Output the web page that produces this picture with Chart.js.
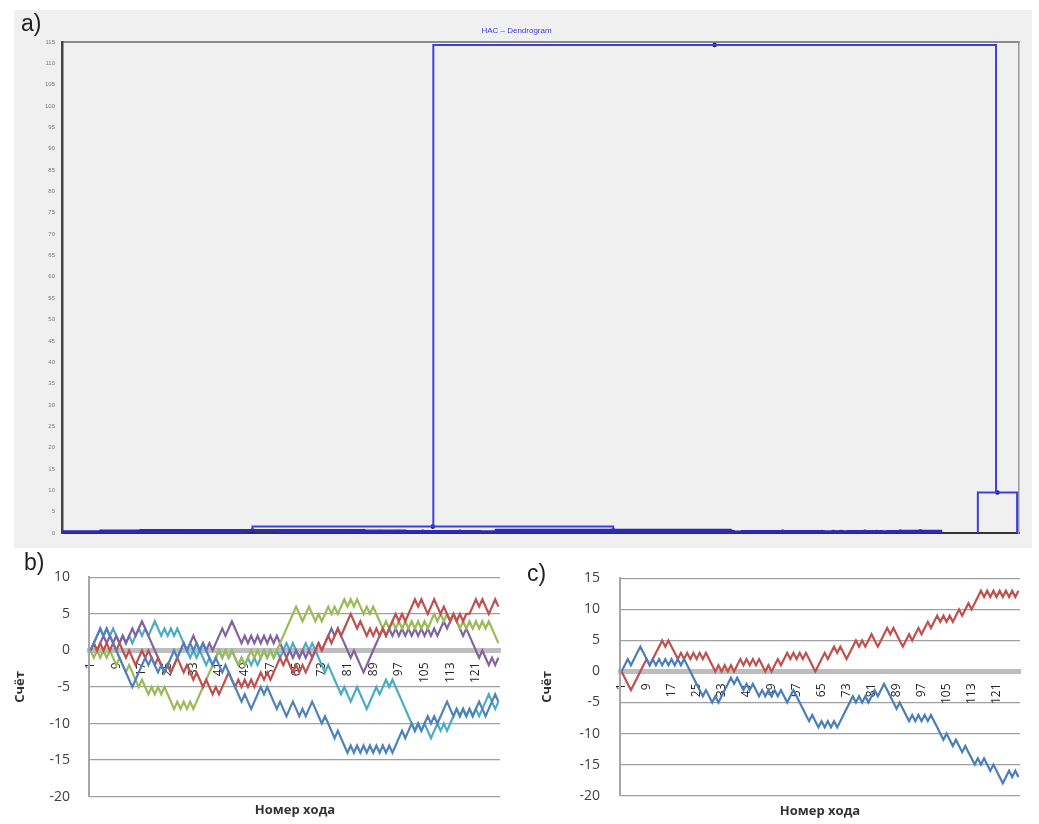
<!DOCTYPE html>
<html>
<head>
<meta charset="utf-8">
<script src="https://cdn.jsdelivr.net/npm/chart.js@4.4.1/dist/chart.umd.min.js"></script>
<style>
  html, body { margin: 0; padding: 0; background: #ffffff; width: 1039px; height: 824px; overflow: hidden; }
  .box { position: absolute; }
  #wa { left: 14px; top: 10px; width: 1018px; height: 538px; background: #f0f0f0; }
  #wb { left: 0px; top: 550px; width: 520px; height: 274px; }
  #wc { left: 520px; top: 550px; width: 519px; height: 274px; }
  .lbl { position: absolute; font-family: 'Liberation Sans', Arial, sans-serif; font-size: 23px; color: #222; line-height: 1; }
  .xt { position: absolute; font-family: 'Open Sans', sans-serif; font-weight: bold; font-size: 13px; color: #333;
        transform: translateX(-50%); white-space: nowrap; line-height: 1; }
</style>
</head>
<body>
<div class="box" id="wa"><canvas id="ca"></canvas></div>
<div class="box" id="wb"><canvas id="cb"></canvas></div>
<div class="box" id="wc"><canvas id="cc"></canvas></div>
<div class="lbl" style="left:21px;top:12px;">a)</div>
<div class="lbl" style="left:24px;top:551px;">b)</div>
<div class="lbl" style="left:527px;top:562px;">c)</div>
<div class="xt" style="left:295px;top:803px;">Номер хода</div>
<div class="xt" style="left:820px;top:804px;">Номер хода</div>

<script>
// ---- a) HAC dendrogram: merges in leaf-order units (0..100), heights in dissimilarity units ----
const mergeLeftX  = [38.8, 95.7, 19.9];
const mergeRightX = [97.6, 99.8, 57.6];
const mergeHeight = [114.3, 9.5, 1.5];
const mergeLeftH  = [1.5, 0, 0.55];
const mergeRightH = [9.5, 0, 0.6];

// low-level merges that form the base of the tree
const lowLeftX  = [0.0, 8.2, 4.1, 14.6, 8.3, 22.6, 25.0, 27.2, 31.5, 33.3, 27.2, 35.8, 39.6, 43.6, 47.2, 51.6,
                   55.0, 45.4, 58.8, 62.4, 64.9, 69.1, 71.1, 78.4, 79.6, 80.6, 82.2, 83.9, 86.3, 88.9, 87.6];
const lowRightX = [8.2, 16.8, 12.5, 18.8, 31.5, 27.2, 29.4, 32.0, 35.1, 36.9, 35.8, 39.6, 43.6, 47.2, 52.2, 55.8,
                   58.8, 69.8, 66.0, 67.4, 69.1, 71.1, 79.5, 80.4, 81.6, 82.2, 85.6, 86.3, 88.9, 90.3, 91.8];
const lowHeight = [0.25, 0.25, 0.4, 0.2, 0.55, 0.25, 0.2, 0.3, 0.25, 0.2, 0.45, 0.3, 0.3, 0.25, 0.3, 0.25,
                   0.3, 0.6, 0.3, 0.25, 0.3, 0.2, 0.3, 0.2, 0.2, 0.25, 0.3, 0.25, 0.3, 0.2, 0.35];

// ---- b) five games: score after each move ----
const movesB = Array.from({ length: 128 }, (_, i) => String(i + 1));
const scoreBlueB = [
  0,1,2,3,2,3,2,1,0,-1, -2,-3,-4,-5,-4,-3,-2,-1,-2,-1, -2,-3,-2,-3,-2,-1,0,-1,0,1,
  0,1,0,1,0,1,0,-1,-2,-1, -2,-3,-2,-3,-4,-5,-6,-7,-6,-7, -8,-7,-6,-5,-6,-5,-6,-7,-8,-7,
  -8,-9,-8,-7,-8,-9,-8,-9,-8,-7, -8,-9,-10,-9,-10,-11,-12,-11,-12,-13, -14,-13,-14,-13,-14,-13,-14,-13,-14,-13,
  -14,-13,-14,-13,-14,-13,-12,-11,-12,-11, -10,-11,-10,-11,-10,-9,-10,-9,-10,-9, -8,-7,-8,-9,-8,-9,-8,-9,-8,-9,
  -8,-7,-8,-9,-8,-7,-6,-7];
const scoreRedB = [
  0,1,0,1,0,1,0,1,0,1, 0,-1,0,-1,-2,-1,0,-1,0,-1, -2,-1,-2,-3,-2,-3,-2,-1,-2,-3,
  -2,-3,-4,-3,-4,-5,-4,-5,-6,-5, -6,-5,-4,-3,-4,-5,-4,-5,-4,-5, -4,-5,-4,-3,-4,-3,-4,-3,-2,-1,
  -2,-1,-2,-3,-2,-3,-2,-3,-2,-1, 0,1,0,1,2,1,2,3,2,3, 4,5,4,3,4,3,2,3,2,3,
  2,3,2,3,4,5,4,5,4,5, 6,7,6,7,6,5,6,7,6,5, 6,5,4,5,4,5,4,5,5,6,
  7,6,7,6,5,6,7,6];
const scoreGreenB = [
  0,-1,0,-1,0,-1,0,-1,-2,-1, -2,-3,-2,-3,-4,-5,-4,-5,-6,-5, -6,-5,-6,-5,-6,-7,-8,-7,-8,-7,
  -8,-7,-8,-7,-6,-5,-4,-3,-2,-1, 0,-1,0,-1,0,-1,-2,-1,-2,-1, 0,-1,0,-1,0,-1,0,-1,0,1,
  2,3,4,5,6,5,4,5,6,5, 4,5,4,5,6,5,6,5,6,7, 6,7,6,7,6,5,6,5,6,5,
  4,3,4,3,4,3,4,3,4,3, 4,3,4,3,4,3,4,5,4,5, 4,5,4,5,4,3,4,3,4,3,
  4,3,4,3,4,3,2,1];
const scorePurpleB = [
  0,1,0,1,2,1,2,1,2,1, 2,1,2,3,2,3,4,3,2,1, 0,-1,-2,-3,-2,-3,-2,-1,0,1,
  0,1,2,1,0,1,0,1,0,1, 2,3,2,3,4,3,2,1,2,1, 2,1,2,1,2,1,2,1,2,1,
  0,-1,0,-1,0,-1,0,-1,0,-1, 0,1,0,1,2,3,2,3,2,1, 0,-1,0,-1,-2,-3,-2,-1,0,1,
  2,3,2,3,2,3,2,3,2,3, 2,3,2,3,2,3,2,3,2,3, 4,3,4,5,4,3,2,3,2,1,
  0,-1,0,-1,-2,-1,-2,-1];
const scoreCyanB = [
  0,1,2,3,2,3,2,3,2,1, 2,1,2,1,2,3,2,3,2,3, 4,3,2,3,2,3,2,3,2,1,
  0,-1,0,-1,0,-1,-2,-1,-2,-1, 0,-1,0,-1,0,-1,-2,-1,-2,-1, -2,-1,-2,-1,0,-1,0,-1,0,-1,
  0,1,0,1,0,-1,0,1,0,1, 0,-1,-2,-3,-2,-3,-4,-5,-6,-5, -6,-7,-6,-5,-6,-7,-8,-7,-6,-5,
  -6,-5,-4,-5,-4,-5,-6,-7,-8,-9, -10,-11,-10,-11,-10,-11,-12,-11,-10,-11, -10,-11,-10,-9,-8,-9,-8,-9,-8,-9,
  -8,-9,-8,-7,-6,-7,-8,-7];

// ---- c) two games ----
const movesC = Array.from({ length: 128 }, (_, i) => String(i + 1));
const scoreRedC = [
  0,-1,-2,-3,-2,-1,0,1,2,1, 2,3,4,5,4,5,4,3,2,3, 2,3,2,3,2,3,2,3,2,1,
  0,1,0,1,0,1,0,1,2,1, 2,1,2,1,2,1,0,1,0,1, 2,1,2,3,2,3,2,3,2,3,
  2,1,0,1,2,3,2,3,4,3, 4,3,2,3,4,5,4,5,4,5, 6,5,4,5,6,7,6,7,6,5,
  4,5,6,5,6,7,6,7, 8,7,8,9,8,9,8,9,8,9, 10,9,10,11,10,11,12,13,12,13,
  12,13,12,13,12,13,12,13,12,13];
const scoreBlueC = [
  0,1,2,1,2,3,4,3,2,1, 2,1,2,1,2,1,2,1,2,1, 2,1,0,-1,-2,-3,-4,-3,-4,-5,
  -4,-5,-4,-3,-2,-1,-2,-1,-2,-3, -2,-3,-2,-3,-4,-3,-4,-3,-4,-3, -4,-3,-4,-5,-4,-3,-4,-5,-6,-7,
  -8,-7,-8,-9,-8,-9,-8,-9,-8,-9, -8,-7,-6,-5,-4,-5,-4,-5,-4,-5, -4,-3,-4,-3,-2,-3,-4,-5,-6,-5,
  -6,-7,-8,-7,-8,-7,-8,-7, -8,-7,-8,-9,-10,-11,-10,-11,-12,-11, -12,-13,-12,-13,-14,-15,-14,-15,-14,-15,
  -16,-15,-16,-17,-18,-17,-16,-17,-16,-17];

Chart.defaults.font.family = "'Open Sans', sans-serif";
Chart.defaults.animation = false;

// ---------- a) dendrogram ----------
function uLink(x1, x2, h, h1, h2) {
  return [{ x: x1, y: h1 }, { x: x1, y: h }, { x: x2, y: h }, { x: x2, y: h2 }];
}
const dendroSets = [];
const nodeDots = [];
for (let i = 0; i < lowLeftX.length; i++) {
  dendroSets.push({
    type: 'scatter', showLine: true, data: uLink(lowLeftX[i], lowRightX[i], lowHeight[i], 0, 0),
    borderColor: '#2b2bb4', borderWidth: 3.4, pointRadius: 0
  });
  nodeDots.push({ x: (lowLeftX[i] + lowRightX[i]) / 2, y: lowHeight[i] });
}
for (let i = 0; i < mergeLeftX.length; i++) {
  dendroSets.push({
    type: 'scatter', showLine: true,
    data: uLink(mergeLeftX[i], mergeRightX[i], mergeHeight[i], mergeLeftH[i], mergeRightH[i]),
    borderColor: '#3f3fe0', borderWidth: 2, pointRadius: 0
  });
  nodeDots.push({ x: (mergeLeftX[i] + mergeRightX[i]) / 2, y: mergeHeight[i] });
}
dendroSets.push({
  type: 'scatter', showLine: false, data: nodeDots,
  pointRadius: 2.3, pointBackgroundColor: '#12123a', pointBorderWidth: 0
});

new Chart(document.getElementById('ca'), {
  type: 'scatter',
  data: { datasets: dendroSets },
  options: {
    responsive: true, maintainAspectRatio: false,
    layout: { padding: { top: 0, right: 13, bottom: 0, left: 0 } },
    plugins: {
      legend: { display: false }, tooltip: { enabled: false },
      title: {
        display: true, text: 'HAC – Dendrogram', color: '#3a3ae0',
        font: { size: 8, family: "'Liberation Sans', Arial, sans-serif", weight: 'normal' },
        padding: { top: 16, bottom: 6.4 }
      }
    },
    scales: {
      x: {
        type: 'linear', min: 0, max: 100,
        ticks: { display: false }, grid: { display: false },
        border: { color: '#333333', width: 2 },
        afterFit(s) { s.height = 15; }
      },
      xTop: {
        type: 'linear', position: 'top', min: 0, max: 100,
        ticks: { display: false }, grid: { display: false },
        border: { color: '#8c8c8c', width: 2 },
        afterFit(s) { s.height = 0; }
      },
      y: {
        min: 0, max: 115,
        ticks: { stepSize: 5, autoSkip: false, font: { size: 6, family: "'Liberation Sans', Arial, sans-serif" }, color: '#7a7a7a', padding: 7 },
        grid: { display: false, drawTicks: false },
        border: { color: '#444444', width: 2.5 },
        afterFit(s) { s.width = 48; }
      },
      yRight: {
        position: 'right', min: 0, max: 115,
        ticks: { display: false }, grid: { display: false, drawTicks: false },
        border: { color: '#9a9a9a', width: 1.5 },
        afterFit(s) { s.width = 0; }
      }
    }
  }
});

// ---------- b) and c) score lines ----------
function scoreChart(id, labels, series, yMin, yMax, yWidth, tickPad, titlePad, padRight, padBottom) {
  return new Chart(document.getElementById(id), {
    type: 'line',
    data: {
      labels: labels,
      datasets: series.map(s => ({
        data: s.values, borderColor: s.color, borderWidth: 2.2,
        pointRadius: 0, tension: 0, fill: false
      }))
    },
    options: {
      responsive: true, maintainAspectRatio: false,
      layout: { padding: { top: 23, right: padRight, bottom: padBottom, left: 0 } },
      plugins: { legend: { display: false }, tooltip: { enabled: false } },
      scales: {
        x: {
          position: { y: 0 }, offset: true,
          grid: { display: false },
          border: { color: '#bdbdbd', width: 5 },
          ticks: {
            autoSkip: false, maxRotation: 90, minRotation: 90, padding: 4,
            font: { size: 12 }, color: '#262626',
            callback(v, i) { return i % 8 === 0 ? this.getLabelForValue(v) : ''; }
          }
        },
        y: {
          min: yMin, max: yMax,
          ticks: { stepSize: 5, padding: tickPad, font: { size: 14 }, color: '#404040' },
          grid: { color: '#a0a0a0', lineWidth: 1.3, drawTicks: false },
          border: { color: '#a6a6a6', width: 2 },
          title: {
            display: true, text: 'Счёт', color: '#333',
            font: { size: 13, weight: 'bold' }, padding: { top: titlePad, bottom: 0 }
          },
          afterFit(s) { s.width = yWidth; }
        }
      }
    }
  });
}

scoreChart('cb', movesB, [
  { values: scoreBlueB,   color: '#4f81bd' },
  { values: scoreRedB,    color: '#c0504d' },
  { values: scoreGreenB,  color: '#9bbb59' },
  { values: scorePurpleB, color: '#8064a2' },
  { values: scoreCyanB,   color: '#4bacc6' }
], -20, 10, 89, 19, 12, 20, 26);

scoreChart('cc', movesC, [
  { values: scoreBlueC, color: '#4a7ebb' },
  { values: scoreRedC,  color: '#c0504d' }
], -20, 15, 100, 20, 19, 19, 24);
</script>
</body>
</html>
